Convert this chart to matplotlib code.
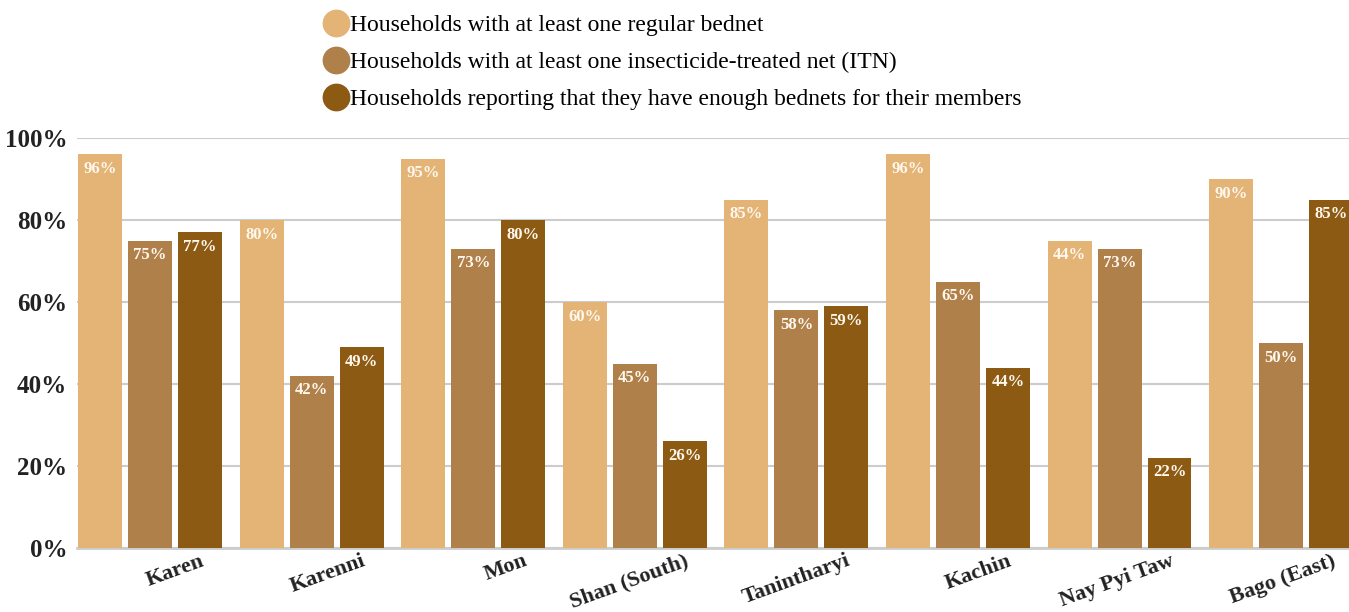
import matplotlib.pyplot as plt
from matplotlib.lines import Line2D
from matplotlib.transforms import ScaledTranslation, blended_transform_factory
import numpy as np

regions = ['Karen', 'Karenni', 'Mon', 'Shan (South)', 'Tanintharyi',
           'Kachin', 'Nay Pyi Taw', 'Bago (East)']
series_names = ['Households with at least one regular bednet',
                'Households with at least one insecticide-treated net (ITN)',
                'Households reporting that they have enough bednets for their members']
regular = [96, 80, 95, 60, 85, 96, 75, 90]
itn = [75, 42, 73, 45, 58, 65, 73, 50]
enough = [77, 49, 80, 26, 59, 44, 22, 85]
# printed labels (Nay Pyi Taw's first bar is labelled 44% in the source)
regular_labels = ['96%', '80%', '95%', '60%', '85%', '96%', '44%', '90%']
itn_labels = ['75%', '42%', '73%', '45%', '58%', '65%', '73%', '50%']
enough_labels = ['77%', '49%', '80%', '26%', '59%', '44%', '22%', '85%']
colors = ['#E3B476', '#B0804A', '#8C5A12']

plt.rcParams['font.family'] = ['Liberation Serif', 'DejaVu Serif']

fig = plt.figure(figsize=(13.49, 6.12), dpi=100)
ax = fig.add_axes([77/1349, 64/612, 1 - 77/1349, (548-138)/612])

x = np.arange(len(regions))
w = 0.272
off = 0.309
data = [regular, itn, enough]
labels = [regular_labels, itn_labels, enough_labels]
for i in range(3):
    xs = x + (i-1)*off
    ax.bar(xs, data[i], width=w, color=colors[i], zorder=2)
    for xx, v, lab in zip(xs, data[i], labels[i]):
        ax.text(xx, v - 1.6, lab, ha='center', va='top', color='#FFF8EE',
                fontsize=12, fontweight='bold', zorder=3)

ax.set_xlim(-0.452, 7.42)
ax.set_ylim(0, 100)
ax.set_yticks([0, 20, 40, 60, 80, 100])
ax.set_yticklabels(['0%', '20%', '40%', '60%', '80%', '100%'],
                   fontsize=18, fontweight='bold', color='#222222')
ax.set_xticks(x)
ax.set_xticklabels([])
# region names: right end sits a bit right of the group centre, rotated
trans = blended_transform_factory(ax.transData, ax.transAxes) + \
    ScaledTranslation(0.5, -0.03, fig.dpi_scale_trans)
for xx, name in zip(x, regions):
    ax.text(xx, 0, name, transform=trans, rotation=20, rotation_mode='anchor',
            ha='right', va='top', fontsize=16, fontweight='bold',
            color='#222222', clip_on=False)
ax.tick_params(axis='x', length=0)
ax.tick_params(axis='y', length=0, pad=7)
ax.grid(axis='y', color='#CCCCCC', linewidth=1.5, zorder=0)
for s in ['top', 'right', 'left']:
    ax.spines[s].set_visible(False)
ax.spines['bottom'].set_color('#CCCCCC')
ax.spines['bottom'].set_linewidth(2)
ax.spines['bottom'].set_zorder(1)

handles = [Line2D([0], [0], marker='o', linestyle='none', markersize=19,
                  markerfacecolor=c, markeredgecolor=c) for c in colors]
fig.legend(handles, series_names, loc='upper left',
           bbox_to_anchor=(312/1349, 1 - 5/612), frameon=False,
           fontsize=17, handletextpad=0.0, labelspacing=0.66,
           borderaxespad=0, handlelength=1.2)

fig.savefig('out.png', dpi=100)
